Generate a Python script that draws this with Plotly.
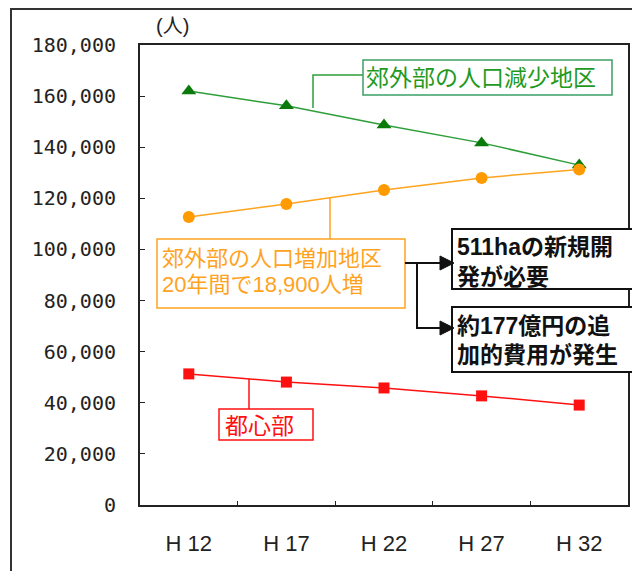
import plotly.graph_objects as go

categories = ["H12", "H17", "H22", "H27", "H32"]
tick_labels_x = ["H 12", "H 17", "H 22", "H 27", "H 32"]
suburb_decrease = [162000, 156200, 148700, 141700, 133000]
suburb_increase = [112700, 117800, 123300, 128000, 131300]
city_center = [51300, 48100, 45800, 42700, 39100]
y_ticks = [0, 20000, 40000, 60000, 80000, 100000, 120000, 140000, 160000, 180000]
y_tick_labels = [f"{v:,}" for v in y_ticks]

W, H = 632, 571
L, R, T, B = 140, 628, 45, 505


def px(x):
    return (x - L) / (R - L)


def py(y):
    return (B - y) / (B - T)


JP = "Liberation Sans, Noto Sans CJK JP"
GREEN_LINE = "#2e9e3a"
GREEN_MARK = "#0a7a0a"
GREEN_TEXT = "#1f9a1f"
GREEN_BOX = "#3d9e66"
ORANGE = "#ffa31f"
ORANGE_MARK = "#ff9a00"
RED = "#ff1010"
BLACK = "#111111"

fig = go.Figure()
fig.add_trace(go.Scatter(x=categories, y=suburb_decrease, mode="lines+markers",
                         line=dict(color=GREEN_LINE, width=1.5),
                         marker=dict(symbol="triangle-up", size=13, color=GREEN_MARK),
                         name="郊外部の人口減少地区", showlegend=False))
fig.add_trace(go.Scatter(x=categories, y=suburb_increase, mode="lines+markers",
                         line=dict(color=ORANGE, width=1.5),
                         marker=dict(symbol="circle", size=12, color=ORANGE_MARK),
                         name="郊外部の人口増加地区", showlegend=False))
fig.add_trace(go.Scatter(x=categories, y=city_center, mode="lines+markers",
                         line=dict(color=RED, width=1.5),
                         marker=dict(symbol="square", size=11, color=RED),
                         name="都心部", showlegend=False))

shapes = []
# outer frame (cut off at right/bottom)
shapes.append(dict(type="rect", xref="paper", yref="paper",
                   x0=px(11), x1=px(645), y0=py(9), y1=py(590),
                   line=dict(color="#333333", width=2), layer="below"))


def rect(x0, y0, x1, y1, color, width=1.5):
    shapes.append(dict(type="rect", xref="paper", yref="paper",
                       x0=px(x0), x1=px(x1), y0=py(y1), y1=py(y0),
                       line=dict(color=color, width=width), fillcolor="white"))


def path(points, color, width=1.5, fill=None, close=False):
    d = "M " + " L ".join(f"{px(a)},{py(b)}" for a, b in points) + (" Z" if close else "")
    s = dict(type="path", xref="paper", yref="paper", path=d,
             line=dict(color=color, width=width))
    if fill:
        s["fillcolor"] = fill
    shapes.append(s)


# green label
path([(363, 75), (313, 75), (313, 108)], GREEN_LINE)
rect(363, 60, 612, 95, GREEN_BOX)
# orange label
path([(330, 239), (330, 198)], ORANGE)
rect(157, 239, 405, 308, ORANGE)
# red label
path([(249, 409), (249, 379)], RED)
rect(219, 409, 313, 440, RED)
# black connectors
path([(405, 263), (445, 263)], BLACK, 2)
path([(417, 263), (417, 328), (445, 328)], BLACK, 2)
# black boxes
rect(452, 229, 660, 289, BLACK, 2)
rect(452, 307, 660, 372, BLACK, 2)
# arrowheads
for yy in (263, 328):
    path([(440, yy - 7), (454, yy), (440, yy + 7)], BLACK, 1, fill=BLACK, close=True)

annotations = []


def text(t, x, y, color, size, bold=False, xanchor="left"):
    annotations.append(dict(text=f"<b>{t}</b>" if bold else t, xref="paper", yref="paper",
                            x=px(x), y=py(y), xanchor=xanchor, yanchor="middle", align="left",
                            showarrow=False, font=dict(family=JP, size=size, color=color)))


text("郊外部の人口減少地区", 364, 78, GREEN_TEXT, 23)
text("郊外部の人口増加地区", 160, 258, ORANGE, 22)
text("20年間で18,900人増", 160, 284, ORANGE, 22)
text("都心部", 223, 426, RED, 23)
text("511haの新規開", 455, 247, BLACK, 23, bold=True)
text("発が必要", 455, 277, BLACK, 23, bold=True)
text("約177億円の追", 455, 326, BLACK, 23, bold=True)
text("加的費用が発生", 455, 355, BLACK, 23, bold=True)
text("(人)", 154, 26, "#222222", 20)

fig.update_layout(
    width=W, height=H,
    margin=dict(l=L, r=W - R, t=T, b=H - B, autoexpand=False),
    paper_bgcolor="white", plot_bgcolor="white",
    shapes=shapes, annotations=annotations,
    xaxis=dict(type="category", tickvals=categories, ticktext=tick_labels_x,
               range=[-0.5, 4.5], showgrid=False, zeroline=False, automargin=False,
               showline=True, mirror=True, linecolor="#222222", linewidth=2,
               ticks="inside", tickson="boundaries", ticklen=4, tickcolor="#222222",
               tickfont=dict(family="Liberation Sans Narrow, Liberation Sans", size=22, color="#222222"),
               ticklabelstandoff=18),
    yaxis=dict(range=[0, 180000], tickvals=y_ticks, ticktext=y_tick_labels,
               showgrid=False, zeroline=False, automargin=False,
               showline=True, mirror=True, linecolor="#222222", linewidth=2,
               ticks="inside", ticklen=5, tickcolor="#222222",
               tickfont=dict(family="DejaVu Sans Mono", size=20, color="#222222"),
               ticklabelstandoff=18),
)

fig.write_html("out.html", config={"displayModeBar": False},
               post_script="document.body.style.margin='0';")
